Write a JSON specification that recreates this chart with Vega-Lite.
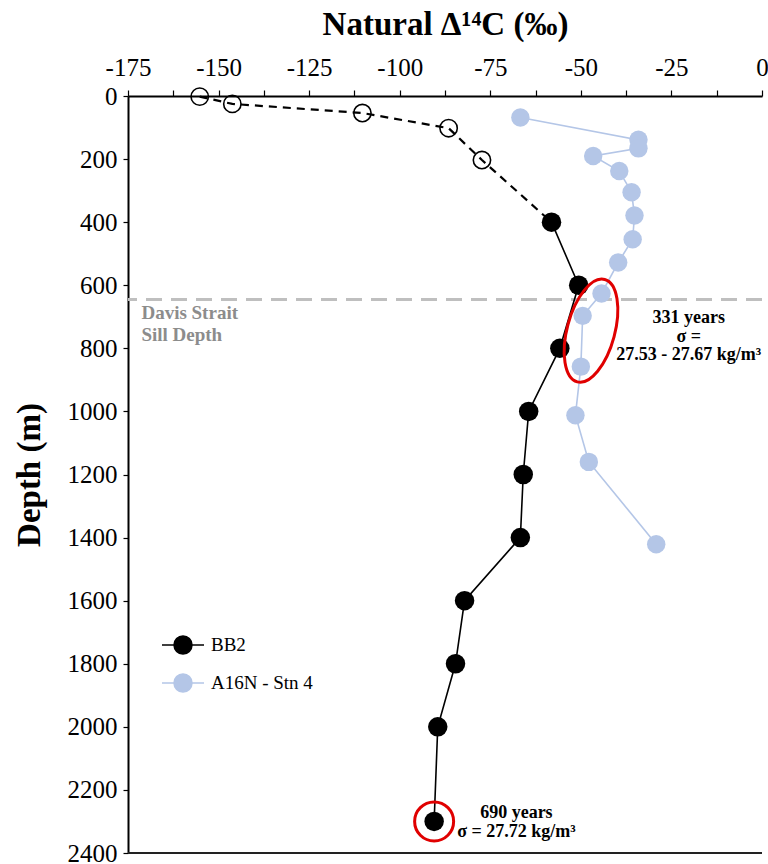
{
  "$schema": "https://vega.github.io/schema/vega-lite/v6.json",
  "width": 634,
  "height": 757,
  "autosize": "none",
  "padding": {"left": 128, "top": 96, "right": 6, "bottom": 11},
  "background": "white",
  "config": {"view": {"stroke": null}, "font": "Liberation Serif"},
  "datasets": {
    "profiles": [
      {"series": "BB2", "kind": "open", "depth": 2, "d14c": -155.2},
      {"series": "BB2", "kind": "open", "depth": 25, "d14c": -146.2},
      {"series": "BB2", "kind": "open", "depth": 54, "d14c": -110.3},
      {"series": "BB2", "kind": "open", "depth": 102, "d14c": -86.5},
      {"series": "BB2", "kind": "open", "depth": 203, "d14c": -77.3},
      {"series": "BB2", "kind": "filled", "depth": 400, "d14c": -58.1},
      {"series": "BB2", "kind": "filled", "depth": 600, "d14c": -50.6},
      {"series": "BB2", "kind": "filled", "depth": 800, "d14c": -55.8},
      {"series": "BB2", "kind": "filled", "depth": 1000, "d14c": -64.4},
      {"series": "BB2", "kind": "filled", "depth": 1200, "d14c": -65.9},
      {"series": "BB2", "kind": "filled", "depth": 1400, "d14c": -66.7},
      {"series": "BB2", "kind": "filled", "depth": 1600, "d14c": -82.1},
      {"series": "BB2", "kind": "filled", "depth": 1800, "d14c": -84.6},
      {"series": "BB2", "kind": "filled", "depth": 2000, "d14c": -89.5},
      {"series": "BB2", "kind": "filled", "depth": 2300, "d14c": -90.5},
      {"series": "A16N - Stn 4", "kind": "filled", "depth": 68, "d14c": -66.7},
      {"series": "A16N - Stn 4", "kind": "filled", "depth": 139, "d14c": -34.1},
      {"series": "A16N - Stn 4", "kind": "filled", "depth": 166, "d14c": -34.1},
      {"series": "A16N - Stn 4", "kind": "filled", "depth": 190, "d14c": -46.6},
      {"series": "A16N - Stn 4", "kind": "filled", "depth": 238, "d14c": -39.4},
      {"series": "A16N - Stn 4", "kind": "filled", "depth": 305, "d14c": -36.0},
      {"series": "A16N - Stn 4", "kind": "filled", "depth": 379, "d14c": -35.2},
      {"series": "A16N - Stn 4", "kind": "filled", "depth": 454, "d14c": -35.7},
      {"series": "A16N - Stn 4", "kind": "filled", "depth": 528, "d14c": -39.7},
      {"series": "A16N - Stn 4", "kind": "filled", "depth": 626, "d14c": -44.3},
      {"series": "A16N - Stn 4", "kind": "filled", "depth": 697, "d14c": -49.5},
      {"series": "A16N - Stn 4", "kind": "filled", "depth": 858, "d14c": -50.0},
      {"series": "A16N - Stn 4", "kind": "filled", "depth": 1012, "d14c": -51.5},
      {"series": "A16N - Stn 4", "kind": "filled", "depth": 1160, "d14c": -47.8},
      {"series": "A16N - Stn 4", "kind": "filled", "depth": 1421, "d14c": -29.2}
    ],
    "sillLine": [{"depth": 645}],
    "frame": [{"depth": 2400}],
    "sill": [{"d14c": -171.3, "depth": 708, "label": "Davis Strait\nSill Depth"}],
    "noteA": [{"d14c": -20.2, "depth": 720, "label": "331 years\nσ =\n27.53 - 27.67 kg/m³"}],
    "noteB": [{"d14c": -67.8, "depth": 2289, "label": "690 years\nσ = 27.72 kg/m³"}],
    "ellipse": [{"d14c": -47.2, "depth": 744}]
  },
  "layer": [
    {
      "data": {"name": "profiles"},
      "transform": [{"filter": "datum.series === 'A16N - Stn 4'"}],
      "mark": {"type": "line", "strokeWidth": 1.6},
      "encoding": {
        "x": {
          "field": "d14c", "type": "quantitative",
          "scale": {"domain": [-175, 0], "nice": false, "zero": false},
          "axis": {
            "orient": "top", "title": "Natural Δ¹⁴C (‰)",
            "titleFontSize": 33, "titleFontWeight": "bold", "titleColor": "black", "titleFont": "Liberation Serif", "titlePadding": 14,
            "values": [-175, -162.5, -150, -137.5, -125, -112.5, -100, -87.5, -75, -62.5, -50, -37.5, -25, -12.5, 0],
            "labelExpr": "datum.value % 25 === 0 ? '' + datum.value : ''",
            "labelFontSize": 25, "labelFont": "Liberation Serif", "labelColor": "black",
            "labelPadding": 10, "labelFlush": false, "labelOverlap": false,
            "tickSize": 6, "tickColor": "black", "tickWidth": 1.2,
            "domainColor": "black", "domainWidth": 2, "grid": false,
            "encode": {"ticks": {"update": {"y": {"value": 6}}}}
          }
        },
        "y": {
          "field": "depth", "type": "quantitative",
          "scale": {"domain": [0, 2400], "reverse": true, "nice": false, "zero": false},
          "axis": {
            "title": "Depth (m)", "titleFontSize": 33, "titleFontWeight": "bold", "titleColor": "black", "titleFont": "Liberation Serif", "titlePadding": 21,
            "values": [0, 100, 200, 300, 400, 500, 600, 700, 800, 900, 1000, 1100, 1200, 1300, 1400, 1500, 1600, 1700, 1800, 1900, 2000, 2100, 2200, 2300, 2400],
            "labelExpr": "datum.value % 200 === 0 ? '' + datum.value : ''",
            "labelFontSize": 25, "labelFont": "Liberation Serif", "labelColor": "black",
            "labelPadding": 6, "labelFlush": false, "labelOverlap": false,
            "tickSize": 5, "tickColor": "black", "tickWidth": 1.2,
            "domainColor": "black", "domainWidth": 2, "grid": false,
            "encode": {"ticks": {"update": {"x": {"value": 5}}}}
          }
        },
        "stroke": {
          "field": "series", "type": "nominal",
          "scale": {"domain": ["BB2", "A16N - Stn 4"], "range": ["#000000", "#b4c6e7"]},
          "legend": {
            "orient": "none", "legendX": 39, "legendY": 533, "title": null,
            "symbolType": "M -1.4 0 L 1.4 0 M 0.6 0 A 0.6 0.6 0 1 1 -0.6 0 A 0.6 0.6 0 1 1 0.6 0 Z",
            "symbolSize": 900, "symbolStrokeWidth": 1.5,
            "labelFontSize": 19, "labelFont": "Liberation Serif", "labelColor": "black",
            "labelOffset": 12, "rowPadding": 10
          }
        },
        "order": {"field": "depth", "type": "quantitative"}
      }
    },
    {
      "data": {"name": "sillLine"},
      "mark": {"type": "rule", "color": "#bfbfbf", "strokeWidth": 3, "strokeDash": [16, 9]},
      "encoding": {"y": {"field": "depth", "type": "quantitative"}}
    },
    {
      "data": {"name": "sill"},
      "mark": {"type": "text", "align": "left", "baseline": "alphabetic", "fontSize": 19, "fontWeight": "bold", "color": "#8c8c8c", "lineBreak": "\n", "lineHeight": 22, "font": "Liberation Serif"},
      "encoding": {
        "x": {"field": "d14c", "type": "quantitative"},
        "y": {"field": "depth", "type": "quantitative"},
        "text": {"field": "label"}
      }
    },
    {
      "data": {"name": "profiles"},
      "transform": [{"filter": "datum.series === 'BB2' && datum.depth <= 400"}],
      "mark": {"type": "line", "color": "black", "strokeWidth": 2.2, "strokeDash": [8, 6]},
      "encoding": {
        "x": {"field": "d14c", "type": "quantitative"},
        "y": {"field": "depth", "type": "quantitative"},
        "order": {"field": "depth", "type": "quantitative"}
      }
    },
    {
      "data": {"name": "profiles"},
      "transform": [{"filter": "datum.series === 'BB2' && datum.depth >= 400"}],
      "mark": {"type": "line", "strokeWidth": 1.6},
      "encoding": {
        "x": {"field": "d14c", "type": "quantitative"},
        "y": {"field": "depth", "type": "quantitative"},
        "stroke": {"field": "series", "type": "nominal"},
        "order": {"field": "depth", "type": "quantitative"}
      }
    },
    {
      "data": {"name": "profiles"},
      "transform": [{"filter": "datum.kind === 'open'"}],
      "mark": {"type": "point", "shape": "circle", "filled": false, "fill": "white", "fillOpacity": 0, "stroke": "black", "strokeWidth": 1.6, "size": 300, "opacity": 1},
      "encoding": {
        "x": {"field": "d14c", "type": "quantitative"},
        "y": {"field": "depth", "type": "quantitative"}
      }
    },
    {
      "data": {"name": "profiles"},
      "transform": [{"filter": "datum.kind === 'filled'"}],
      "mark": {"type": "point", "filled": true, "opacity": 1},
      "encoding": {
        "x": {"field": "d14c", "type": "quantitative"},
        "y": {"field": "depth", "type": "quantitative"},
        "size": {"condition": {"test": "datum.series === 'BB2'", "value": 380}, "value": 340},
        "color": {
          "field": "series", "type": "nominal",
          "scale": {"domain": ["BB2", "A16N - Stn 4"], "range": ["#000000", "#b4c6e7"]},
          "legend": {
            "orient": "none", "legendX": 39, "legendY": 533, "title": null,
            "symbolType": "M -1.4 0 L 1.4 0 M 0.6 0 A 0.6 0.6 0 1 1 -0.6 0 A 0.6 0.6 0 1 1 0.6 0 Z",
            "symbolSize": 900, "symbolStrokeWidth": 1.5,
            "labelFontSize": 19, "labelFont": "Liberation Serif", "labelColor": "black",
            "labelOffset": 12, "rowPadding": 10
          }
        }
      }
    },
    {
      "data": {"name": "ellipse"},
      "mark": {"type": "point", "shape": "M -0.45 0 A 0.45 1 0 1 0 0.45 0 A 0.45 1 0 1 0 -0.45 0 Z", "size": 11236, "angle": 15, "filled": false, "stroke": "#e00000", "strokeWidth": 3, "opacity": 1},
      "encoding": {
        "x": {"field": "d14c", "type": "quantitative"},
        "y": {"field": "depth", "type": "quantitative"}
      }
    },
    {
      "data": {"name": "profiles"},
      "transform": [{"filter": "datum.series === 'BB2' && datum.depth === 2300"}],
      "mark": {"type": "point", "shape": "circle", "size": 1521, "filled": false, "stroke": "#e00000", "strokeWidth": 3, "opacity": 1},
      "encoding": {
        "x": {"field": "d14c", "type": "quantitative"},
        "y": {"field": "depth", "type": "quantitative"}
      }
    },
    {
      "data": {"name": "noteA"},
      "mark": {"type": "text", "align": "center", "baseline": "alphabetic", "fontSize": 18, "fontWeight": "bold", "color": "black", "lineBreak": "\n", "lineHeight": 18.5, "font": "Liberation Serif"},
      "encoding": {
        "x": {"field": "d14c", "type": "quantitative"},
        "y": {"field": "depth", "type": "quantitative"},
        "text": {"field": "label"}
      }
    },
    {
      "data": {"name": "noteB"},
      "mark": {"type": "text", "align": "center", "baseline": "alphabetic", "fontSize": 18, "fontWeight": "bold", "color": "black", "lineBreak": "\n", "lineHeight": 19, "font": "Liberation Serif"},
      "encoding": {
        "x": {"field": "d14c", "type": "quantitative"},
        "y": {"field": "depth", "type": "quantitative"},
        "text": {"field": "label"}
      }
    },
    {
      "data": {"name": "frame"},
      "mark": {"type": "rule", "color": "#222222", "strokeWidth": 2},
      "encoding": {"y": {"field": "depth", "type": "quantitative"}}
    }
  ]
}
